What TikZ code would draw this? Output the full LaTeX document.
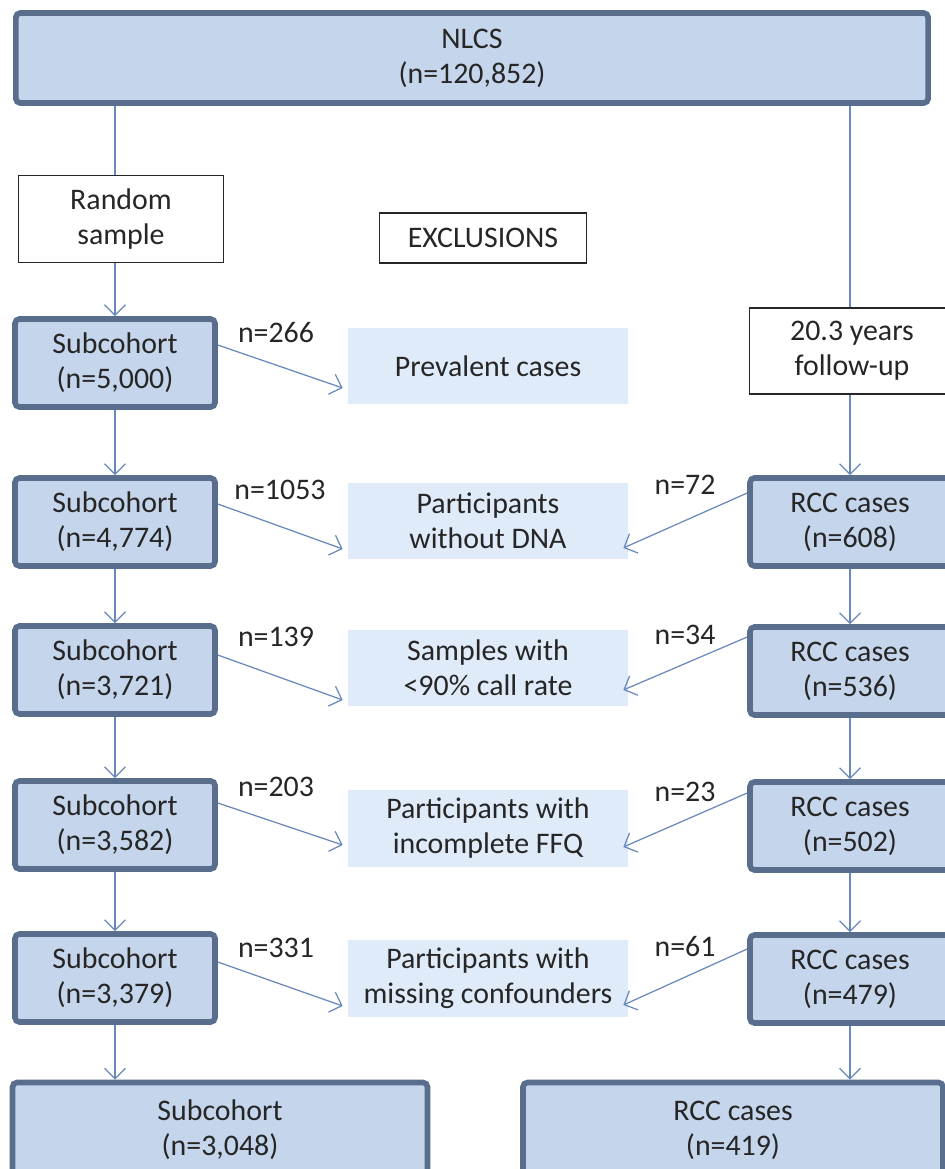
\documentclass[tikz,border=0pt]{standalone}
\usepackage{fontspec}
\setmainfont{Carlito}
\usepackage{tikz}
\usetikzlibrary{arrows.meta}

\definecolor{boxfill}{RGB}{197,213,235}
\definecolor{boxline}{RGB}{88,110,140}
\definecolor{exfill}{RGB}{223,235,249}
\definecolor{arrowblue}{RGB}{104,136,188}
\definecolor{textgray}{RGB}{38,38,38}

\tikzset{
  mainbox/.style={draw=boxline,line width=3.2pt,fill=boxfill,rounded corners=2.5pt,align=center,minimum width=4.0cm,minimum height=1.76cm,inner sep=0pt},
  plainbox/.style={draw=black!85,line width=0.6pt,fill=white,align=center,inner sep=0pt},
  exbox/.style={fill=exfill,align=center,minimum width=5.6cm,minimum height=1.54cm,inner sep=0pt},
  conn/.style={draw=arrowblue,line width=0.7pt},
}

\begin{document}
\begin{tikzpicture}[x=0.02cm,y=-0.02cm,font=\fontsize{17}{20}\selectfont,text=textgray,
  >={Straight Barb[length=6pt,width=12pt]}]

      \useasboundingbox (0,0) rectangle (945,1169);
      \clip (0,0) rectangle (945,1169);

      \node[mainbox,minimum width=18.25cm,minimum height=1.8cm] (t) at (472,58) {NLCS\\(n=120,852)};
      \node[plainbox,minimum width=4.1cm,minimum height=1.74cm] (rs) at (121,219) {Random\\sample};
      \node[plainbox,minimum width=4.14cm,minimum height=1.0cm] (ex) at (483,238) {EXCLUSIONS};
      \node[plainbox,minimum width=4.12cm,minimum height=1.72cm] (fu) at (852,351) {20.3 years\\follow-up};

      \node[mainbox] (s1) at (115,363) {Subcohort\\(n=5,000)};
      \node[mainbox] (s2) at (115,522) {Subcohort\\(n=4,774)};
      \node[mainbox] (s3) at (115,670) {Subcohort\\(n=3,721)};
      \node[mainbox] (s4) at (115,825) {Subcohort\\(n=3,582)};
      \node[mainbox] (s5) at (115,978) {Subcohort\\(n=3,379)};
      \node[mainbox,minimum width=8.3cm,minimum height=1.9cm] (sf) at (220,1130) {Subcohort\\(n=3,048)};

      \node[mainbox] (r1) at (850,522) {RCC cases\\(n=608)};
      \node[mainbox] (r2) at (850,671) {RCC cases\\(n=536)};
      \node[mainbox] (r3) at (850,826) {RCC cases\\(n=502)};
      \node[mainbox] (r4) at (850,979) {RCC cases\\(n=479)};
      \node[mainbox,minimum width=8.4cm,minimum height=1.9cm] (rf) at (733,1130) {RCC cases\\(n=419)};

      \node[exbox] (e1) at (488,366) {Prevalent cases};
      \node[exbox] (e2) at (488,521) {Participants\\without DNA};
      \node[exbox] (e3) at (488,668) {Samples with\\<90\% call rate};
      \node[exbox] (e4) at (488,828) {Participants with\\incomplete FFQ};
      \node[exbox] (e5) at (488,978) {Participants with\\missing confounders};

      \node (l1) at (276,333) {n=266};
      \node (l2) at (280,490) {n=1053};
      \node (l3) at (276,637) {n=139};
      \node (l4) at (276,787) {n=203};
      \node (l5) at (276,948) {n=331};

      \node (m2) at (685,485) {n=72};
      \node (m3) at (685,635) {n=34};
      \node (m4) at (685,792) {n=23};
      \node (m5) at (685,947) {n=61};

      \draw[conn] (s1 |- t.south) -- (s1 |- rs.north);
      \draw[conn,->] (s1 |- rs.south) -- (s1.north);
      \draw[conn] (r1 |- t.south) -- (r1 |- fu.north);
      \draw[conn,->] (r1 |- fu.south) -- (r1.north);

      \draw[conn,->] (s1) -- (s2);
      \draw[conn,->] (s2) -- (s3);
      \draw[conn,->] (s3) -- (s4);
      \draw[conn,->] (s4) -- (s5);
      \draw[conn,->] (s5.south) -- (s5.south |- sf.north);
      \draw[conn,->] (r1) -- (r2);
      \draw[conn,->] (r2) -- (r3);
      \draw[conn,->] (r3) -- (r4);
      \draw[conn,->] (r4.south) -- (r4.south |- rf.north);

      \draw[conn,->] ([yshift=0.36cm]s1.east) -- ([xshift=-0.1cm,yshift=-0.44cm]e1.west);
      \draw[conn,->] ([yshift=0.36cm]s2.east) -- ([xshift=-0.1cm,yshift=-0.56cm]e2.west);
      \draw[conn,->] ([yshift=0.3cm]s3.east) -- ([xshift=-0.1cm,yshift=-0.64cm]e3.west);
      \draw[conn,->] ([yshift=0.44cm]s4.east) -- ([xshift=-0.1cm,yshift=-0.34cm]e4.west);
      \draw[conn,->] ([yshift=0.32cm]s5.east) -- ([xshift=-0.1cm,yshift=-0.56cm]e5.west);

      \draw[conn,->] ([yshift=0.58cm]r1.west) -- ([xshift=-0.1cm,yshift=-0.54cm]e2.east);
      \draw[conn,->] ([yshift=0.68cm]r2.west) -- ([xshift=-0.1cm,yshift=-0.44cm]e3.east);
      \draw[conn,->] ([yshift=0.66cm]r3.west) -- ([xshift=-0.1cm,yshift=-0.38cm]e4.east);
      \draw[conn,->] ([yshift=0.6cm]r4.west) -- ([xshift=-0.1cm,yshift=-0.54cm]e5.east);
    \end{tikzpicture}
\end{document}
